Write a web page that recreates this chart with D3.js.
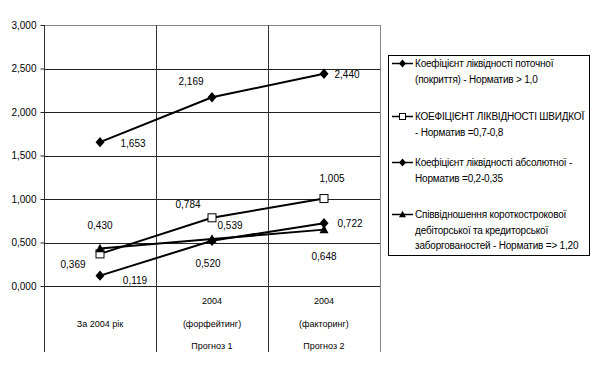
<!DOCTYPE html>
<html>
<head>
<meta charset="utf-8">
<script src="https://cdn.jsdelivr.net/npm/d3@7"></script>
<style>
  body { margin: 0; background: #fff; }
  text { font-family: "Liberation Sans", Arial, sans-serif; fill: #000; }
</style>
</head>
<body>
<div id="chart"></div>
<script>
// categories (two levels, like the excel multi-level axis)
var categories = ["c1", "c2", "c3"];
var catLines = [["За 2004 рік"], ["2004", "(форфейтинг)"], ["2004", "(факторинг)"]];
var catGroups = ["", "Прогноз 1", "Прогноз 2"];

var yTicks = [0, 0.5, 1, 1.5, 2, 2.5, 3];

// series values
var currentRatio = [1.653, 2.169, 2.440];
var quickRatio = [0.369, 0.784, 1.005];
var absoluteRatio = [0.119, 0.520, 0.722];
var receivablesRatio = [0.430, 0.539, 0.648];

var seriesNames = [
    ["Коефіцієнт ліквідності поточної", "(покриття) - Норматив > 1,0"],
    ["КОЕФІЦІЄНТ ЛІКВІДНОСТІ ШВИДКОЇ", "- Норматив =0,7-0,8"],
    ["Коефіцієнт ліквідності абсолютної -", "Норматив =0,2-0,35"],
    ["Співвідношення короткострокової", "дебіторської та кредиторської", "заборгованостей - Норматив => 1,20"]
];
var seriesMarkers = ["diamond", "square", "diamond", "triangle"];

// label offsets per point [dx, dy] (relative to point)
var labelOffsets = [
    [[33, 5], [-21, -12], [23, 4]],
    [[-27, 14], [-24, -10], [8, -17]],
    [[35, 8], [-4, 26], [26, 4]],
    [[0, -20], [18, -10], [0, 30]]
];

var allSeries = [currentRatio, quickRatio, absoluteRatio, receivablesRatio];

var width = 592, height = 370;
var plot = {left: 44, right: 380, top: 25, bottom: 286};

var svg = d3.select("#chart").append("svg")
    .attr("width", width).attr("height", height);

var x = d3.scaleBand().domain(categories).range([plot.left, plot.right]);
var y = d3.scaleLinear().domain([0, 3]).range([plot.bottom, plot.top]);

// horizontal grid
svg.append("g").selectAll("line").data(yTicks).enter().append("line")
    .attr("x1", plot.left).attr("x2", plot.right)
    .attr("y1", function(d) { return Math.round(y(d)) + 0.5; })
    .attr("y2", function(d) { return Math.round(y(d)) + 0.5; })
    .style("stroke", function(d) { return d === 3 ? "#888" : "#222"; })
    .style("stroke-width", 1);

// vertical category lines (also through category label area)
var vx = categories.map(function(c) { return x(c); }).concat([plot.right]);
svg.append("g").selectAll("line").data(vx).enter().append("line")
    .attr("x1", function(d) { return Math.round(d) + 0.5; })
    .attr("x2", function(d) { return Math.round(d) + 0.5; })
    .attr("y1", plot.top).attr("y2", 352)
    .style("stroke", function(d, i) { return i === 3 ? "#888" : "#333"; })
    .style("stroke-width", 1);

// y axis
var yAxis = d3.axisLeft(y).tickValues(yTicks).tickSize(4)
    .tickFormat(function(d) { return d3.format(".3f")(d).replace(".", ","); });
var ya = svg.append("g").attr("transform", "translate(" + (plot.left + 0.5) + ",0)").call(yAxis);
ya.select(".domain").remove();
ya.selectAll("line").style("stroke", "#222");
ya.selectAll("text").style("font-size", "10px").attr("dx", "-1");

// category labels
var catG = svg.append("g");
catLines.forEach(function(lines, i) {
    var cx = x(categories[i]) + x.bandwidth() / 2;
    if (lines.length === 1) {
        catG.append("text").attr("x", cx).attr("y", 327)
            .attr("text-anchor", "middle").style("font-size", "9px").text(lines[0]);
    } else {
        lines.forEach(function(t, j) {
            catG.append("text").attr("x", cx).attr("y", 304 + j * 23)
                .attr("text-anchor", "middle").style("font-size", "9px").text(t);
        });
    }
    if (catGroups[i]) {
        catG.append("text").attr("x", cx).attr("y", 349)
            .attr("text-anchor", "middle").style("font-size", "9px").text(catGroups[i]);
    }
});

// marker shapes, hw = half width
function drawMarker(g, type, cx, cy, hw) {
    if (type === "diamond") {
        var hh = hw * 1.15;
        g.append("path")
            .attr("d", "M" + cx + "," + (cy - hh) + "L" + (cx + hw) + "," + cy + "L" + cx + "," + (cy + hh) + "L" + (cx - hw) + "," + cy + "Z")
            .style("fill", "#000");
    } else if (type === "square") {
        g.append("rect").attr("x", cx - hw + 0.5).attr("y", cy - hw + 0.5)
            .attr("width", hw * 2 - 1).attr("height", hw * 2 - 1)
            .style("fill", "#fff").style("stroke", "#000").style("stroke-width", 1);
    } else {
        g.append("path")
            .attr("d", "M" + cx + "," + (cy - hw * 1.1) + "L" + (cx + hw) + "," + (cy + hw * 0.8) + "L" + (cx - hw) + "," + (cy + hw * 0.8) + "Z")
            .style("fill", "#000");
    }
}

var line = d3.line()
    .x(function(d, i) { return x(categories[i]) + x.bandwidth() / 2; })
    .y(function(d) { return y(d); });

var linesG = svg.append("g");
allSeries.forEach(function(vals, s) {
    linesG.append("path").datum(vals).attr("d", line)
        .style("fill", "none").style("stroke", "#000").style("stroke-width", 2);
});
allSeries.forEach(function(vals, s) {
    vals.forEach(function(v, i) {
        var cx = x(categories[i]) + x.bandwidth() / 2;
        drawMarker(linesG, seriesMarkers[s], cx, y(v), 4.5);
    });
});

// data labels
var labG = svg.append("g");
allSeries.forEach(function(vals, s) {
    vals.forEach(function(v, i) {
        var cx = x(categories[i]) + x.bandwidth() / 2;
        var off = labelOffsets[s][i];
        labG.append("text")
            .attr("x", cx + off[0]).attr("y", y(v) + off[1])
            .attr("text-anchor", "middle")
            .style("font-size", "10px")
            .text(d3.format(".3f")(v).replace(".", ","));
    });
});

// legend
var leg = svg.append("g");
leg.append("rect").attr("x", 388.5).attr("y", 55.5).attr("width", 201).attr("height", 200)
    .style("fill", "#fff").style("stroke", "#000").style("stroke-width", 1);
var legY = [67, 120, 166, 218];
seriesNames.forEach(function(lines, s) {
    var ly = legY[s];
    leg.append("line").attr("x1", 392).attr("x2", 413).attr("y1", ly - 3.5).attr("y2", ly - 3.5)
        .style("stroke", "#000").style("stroke-width", 1.5);
    drawMarker(leg, seriesMarkers[s], 402.5, ly - 3.5, 3.5);
    lines.forEach(function(t, j) {
        leg.append("text").attr("x", 415).attr("y", ly + j * 15.5)
            .style("font-size", "10px").style("letter-spacing", "-0.2px").text(t);
    });
});
</script>
</body>
</html>
